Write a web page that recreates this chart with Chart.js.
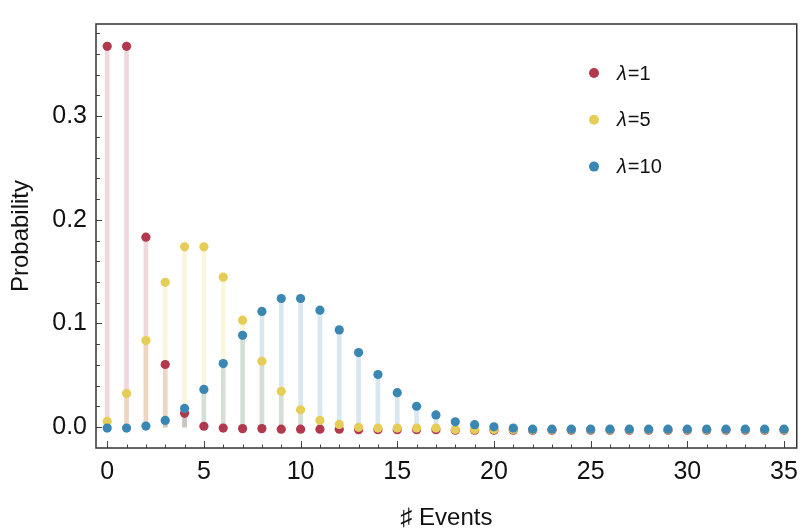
<!DOCTYPE html>
<html>
<head>
<meta charset="utf-8">
<script src="https://cdn.jsdelivr.net/npm/chart.js@4.4.1/dist/chart.umd.min.js"></script>
<style>
  body { margin: 0; background: #fff; }
</style>
</head>
<body>
<canvas id="pmf" width="807" height="532"></canvas>
<script>
// number of events on the x axis
let events = [0, 1, 2, 3, 4, 5, 6, 7, 8, 9, 10, 11, 12, 13, 14, 15, 16, 17,
    18, 19, 20, 21, 22, 23, 24, 25, 26, 27, 28, 29, 30, 31, 32, 33, 34, 35];

// probability of each count
let lambda1 = [0.3675, 0.3675, 0.1833, 0.0604, 0.0133, 0.0008, -0.001, -0.0015,
    -0.0015, -0.002, -0.002, -0.002, -0.002, -0.0025, -0.0025, -0.0025, -0.0025,
    -0.0025, -0.003, -0.003, -0.003, -0.003, -0.003, -0.003, -0.003, -0.003,
    -0.003, -0.003, -0.003, -0.003, -0.003, -0.003, -0.003, -0.003, -0.003, -0.003];
let lambda5 = [0.0054, 0.0323, 0.0835, 0.1397, 0.174, 0.174, 0.1447, 0.1032,
    0.0635, 0.0345, 0.0167, 0.0064, 0.0026, -0.0002, -0.001, -0.001, -0.001,
    -0.001, -0.0023, -0.0023, -0.0023, -0.0023, -0.0025, -0.0025, -0.0025, -0.0025,
    -0.0025, -0.0025, -0.0025, -0.0025, -0.0025, -0.0025, -0.0025, -0.0025, -0.0025, -0.0025];
let lambda10 = [-0.001, -0.001, 0.001, 0.0064, 0.018, 0.0363, 0.0613, 0.0885,
    0.1116, 0.1241, 0.1241, 0.1128, 0.0938, 0.0719, 0.0507, 0.0332, 0.0201,
    0.0117, 0.0051, 0.0023, 0.0002, -0.001, -0.002, -0.002, -0.002, -0.002,
    -0.002, -0.002, -0.002, -0.002, -0.002, -0.002, -0.002, -0.002, -0.002, -0.002];

let seriesNames = ["λ=1", "λ=5", "λ=10"];
let seriesValues = [lambda1, lambda5, lambda10];
let seriesColors = ["178, 56, 78", "230, 205, 87", "58, 135, 179"];

// tick labels
let xTickValues = [0, 5, 10, 15, 20, 25, 30, 35];
let yTickValues = [0, 0.1, 0.2, 0.3];

const FONT = "'Liberation Sans', Arial, 'DejaVu Sans', sans-serif";

function toPoints(values) {
    return values.map((v, i) => ({ x: events[i], y: v }));
}

// stems first (pale bars), then the dots on top
let datasets = [];
seriesValues.forEach((values, i) => {
    datasets.push({
        type: "bar",
        label: seriesNames[i] + " stem",
        data: toPoints(values),
        backgroundColor: "rgba(" + seriesColors[i] + ", 0.2)",
        borderWidth: 0,
        barThickness: 4,
        grouped: false,
        order: 5 - i,
    });
});
seriesValues.forEach((values, i) => {
    datasets.push({
        type: "scatter",
        label: seriesNames[i],
        data: toPoints(values),
        backgroundColor: "rgb(" + seriesColors[i] + ")",
        pointRadius: 4.6,
        pointBorderWidth: 0,
        order: 2 - i,
        isDots: true,
    });
});

// frame with inward ticks on the left and bottom
const frameTicks = {
    id: "frameTicks",
    afterDraw(chart) {
        const ctx = chart.ctx;
        const a = chart.chartArea;
        const xs = chart.scales.x;
        const ys = chart.scales.y;
        ctx.save();
        ctx.strokeStyle = "#444";
        ctx.lineWidth = 1;
        ctx.beginPath();
        for (let k = 0; k <= 35; k++) {
            const px = Math.round(xs.getPixelForValue(k)) + 0.5;
            const len = k % 5 === 0 ? 7 : 3.5;
            ctx.moveTo(px, a.bottom);
            ctx.lineTo(px, a.bottom - len);
        }
        for (let j = 0; j <= 19; j++) {
            const v = j * 0.02;
            const py = Math.round(ys.getPixelForValue(v)) + 0.5;
            const len = j % 5 === 0 ? 6 : 4;
            ctx.moveTo(a.left, py);
            ctx.lineTo(a.left + len, py);
        }
        ctx.stroke();
        ctx.lineWidth = 1.5;
        ctx.strokeStyle = "#333";
        ctx.strokeRect(a.left, a.top, a.right - a.left, a.bottom - a.top);
        ctx.restore();
    },
};

// legend inside the plot, top right
const dotLegend = {
    id: "dotLegend",
    afterDraw(chart) {
        const ctx = chart.ctx;
        const dots = chart.data.datasets.filter(d => d.isDots);
        ctx.save();
        ctx.textBaseline = "middle";
        dots.forEach((d, i) => {
            const y = 73 + i * 46.8;
            ctx.fillStyle = d.backgroundColor;
            ctx.beginPath();
            ctx.arc(594, y, 5, 0, Math.PI * 2);
            ctx.fill();
            ctx.fillStyle = "#111";
            const sym = d.label.charAt(0);
            const rest = d.label.slice(1);
            ctx.font = "italic 20px " + FONT;
            ctx.fillText(sym, 617, y + 1);
            const w = ctx.measureText(sym).width;
            ctx.font = "20px " + FONT;
            ctx.fillText(rest, 617 + w + 1, y + 1);
        });
        ctx.restore();
    },
};

new Chart("pmf", {
    type: "bar",
    data: { datasets: datasets },
    options: {
        responsive: false,
        animation: false,
        layout: { padding: { top: 11, right: 5, left: 0, bottom: 0 } },
        plugins: {
            legend: { display: false },
            tooltip: { enabled: false },
        },
        scales: {
            x: {
                type: "linear",
                min: -0.58,
                max: 35.66,
                offset: false,
                grid: { display: false, drawTicks: false },
                border: { display: false },
                afterBuildTicks: s => { s.ticks = xTickValues.map(v => ({ value: v })); },
                afterFit: s => { s.height = 84; },
                ticks: {
                    padding: 9,
                    color: "#111",
                    font: { family: FONT, size: 25 },
                    callback: v => String(v),
                },
                title: {
                    display: true,
                    text: "♯ Events",
                    color: "#111",
                    font: { family: FONT, size: 24 },
                    padding: { top: 0, bottom: -1 },
                },
            },
            y: {
                type: "linear",
                min: -0.0202,
                max: 0.389,
                grid: { display: false, drawTicks: false },
                border: { display: false },
                afterBuildTicks: s => { s.ticks = yTickValues.map(v => ({ value: v })); },
                afterFit: s => { s.width = 96; },
                ticks: {
                    padding: 9,
                    color: "#111",
                    font: { family: FONT, size: 25 },
                    callback: v => v.toFixed(1),
                },
                title: {
                    display: true,
                    text: "Probability",
                    color: "#111",
                    font: { family: FONT, size: 24 },
                    padding: { top: 7, bottom: 0 },
                },
            },
        },
    },
    plugins: [frameTicks, dotLegend],
});
</script>
</body>
</html>
